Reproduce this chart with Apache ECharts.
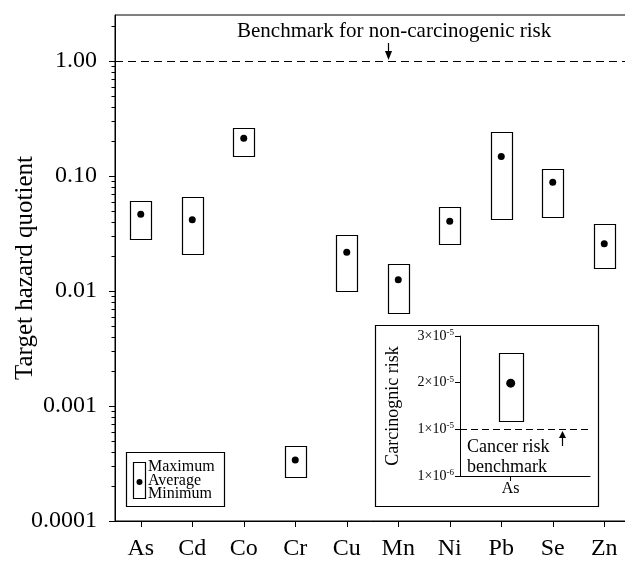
<!DOCTYPE html>
<html><head><meta charset="utf-8">
<script src="https://cdn.jsdelivr.net/npm/echarts@6/dist/echarts.min.js"></script>
<style>html,body{margin:0;padding:0;background:#fff}#c{width:625px;height:561px}</style>
</head><body><div id="c"></div>
<script>
// ---- data ----
const categories = ['As','Cd','Co','Cr','Cu','Mn','Ni','Pb','Se','Zn'];
const maxValues = [0.061, 0.0657, 0.26, 0.00045, 0.0307, 0.0171, 0.0534, 0.243, 0.115, 0.038];
const avgValues = [0.0465, 0.0417, 0.213, 0.00034, 0.0217, 0.0125, 0.0404, 0.148, 0.0881, 0.0258];
const minValues = [0.0285, 0.021, 0.150, 0.00024, 0.0101, 0.0064, 0.0255, 0.0426, 0.0438, 0.0160];
const yTickValues = [0.0001, 0.001, 0.01, 0.1, 1];
const yTickLabels = ['0.0001', '0.001', '0.01', '0.10', '1.00'];
const benchmarkHQ = [1];
const legendLabels = ['Maximum', 'Average', 'Minimum'];

const insetCategories = ['As'];
const insetMax = [2.64e-5];
const insetAvg = [1.99e-5];
const insetMin = [1.18e-5];
const insetTickValues = [0, 1e-5, 2e-5, 3e-5];
const insetTickMantissa = ['1', '1', '2', '3'];
const insetTickExponent = ['-6', '-5', '-5', '-5'];
const cancerBenchmark = [1e-5];

// ---- layout / style ----
const FONT = 'Liberation Serif';
const Y_MAX = 2.512;
const INSET_CAT_AT = 0.39;
const minorTicks = [];
for (let k = -4; k <= 0; k++) for (let m = 2; m <= 9; m++) {
  const v = m * Math.pow(10, k);
  if (v <= Y_MAX) minorTicks.push(v);
}
function nearestIdx(arr, v) {
  let b = 0, bd = Infinity;
  arr.forEach((a, i) => { const d = Math.abs(Math.log(a) - Math.log(v)); if (d < bd) { bd = d; b = i; } });
  return b;
}

const chart = echarts.init(document.getElementById('c'));
const black = '#000';
chart.setOption({
  animation: false,
  textStyle: { fontFamily: FONT, color: black },
  grid: [
    { left: 115, top: 15, width: 515, height: 506, containLabel: false, outerBoundsMode: 'none',
      show: true, borderColor: black, borderWidth: 1, backgroundColor: 'transparent' },
    { left: 460, top: 336, width: 130, height: 140, containLabel: false, outerBoundsMode: 'none' }
  ],
  xAxis: [
    { gridIndex: 0, type: 'category', data: categories, boundaryGap: true,
      axisLine: { show: true, lineStyle: { color: black, width: 1 } },
      axisTick: { show: true, alignWithLabel: true, length: 6, lineStyle: { color: black } },
      axisLabel: { fontSize: 24, fontFamily: FONT, color: black, margin: 16 },
      splitLine: { show: false } },
    { gridIndex: 1, type: 'value', min: 0, max: 1,
      axisLine: { show: true, onZero: false, lineStyle: { color: black, width: 1 } },
      axisTick: { show: true, length: 5, customValues: [INSET_CAT_AT], lineStyle: { color: black } },
      axisLabel: { customValues: [INSET_CAT_AT], formatter: () => insetCategories[0], fontSize: 16, fontFamily: FONT, color: black, margin: 5 },
      splitLine: { show: false } }
  ],
  yAxis: [
    { gridIndex: 0, type: 'log', logBase: 10, min: 0.0001, max: Y_MAX,
      axisLine: { show: true, lineStyle: { color: black, width: 1 } },
      axisTick: { show: true, length: 6, customValues: yTickValues, lineStyle: { color: black } },
      axisLabel: { customValues: yTickValues, formatter: v => yTickLabels[nearestIdx(yTickValues, v)], fontSize: 24, fontFamily: FONT, color: black, margin: 18 },
      splitLine: { show: false },
      name: 'Target hazard quotient', nameLocation: 'middle', nameGap: 77, nameMoveOverlap: false,
      nameTextStyle: { fontSize: 25, fontFamily: FONT, color: black } },
    { gridIndex: 1, type: 'value', min: 0, max: 3e-5,
      axisLine: { show: true, lineStyle: { color: black, width: 1 } },
      axisTick: { show: true, length: 5, customValues: insetTickValues, lineStyle: { color: black } },
      axisLabel: { customValues: insetTickValues, margin: 6,
        formatter: v => { let i = 0, bd = Infinity; insetTickValues.forEach((a, j) => { const d = Math.abs(a - v); if (d < bd) { bd = d; i = j; } });
          return '{m|' + insetTickMantissa[i] + '×10}{s|' + insetTickExponent[i] + '}'; },
        rich: { m: { fontSize: 14, fontFamily: FONT, color: black },
                s: { fontSize: 9, fontFamily: FONT, color: black, padding: [0, 0, 7, 0] } } },
      splitLine: { show: false },
      name: 'Carcinognic risk', nameLocation: 'middle', nameGap: 58, nameMoveOverlap: false,
      nameTextStyle: { fontSize: 18, fontFamily: FONT, color: black } }
  ],
  series: [
    { type: 'custom', xAxisIndex: 0, yAxisIndex: 0, z: 3, clip: false,
      data: categories.map((c, i) => [i, minValues[i], maxValues[i]]),
      encode: { x: 0, y: [1, 2] },
      renderItem: (params, api) => {
        const lo = api.coord([api.value(0), api.value(1)]);
        const hi = api.coord([api.value(0), api.value(2)]);
        return { type: 'rect', shape: { x: Math.round(lo[0] - 10.5) + 0.5, y: Math.round(hi[1]) + 0.5, width: 21, height: Math.round(lo[1]) - Math.round(hi[1]) },
          style: { fill: 'none', stroke: black, lineWidth: 1.2 } };
      } },
    { type: 'scatter', xAxisIndex: 0, yAxisIndex: 0, z: 4,
      data: avgValues.map((v, i) => [i, v]), symbol: 'circle', symbolSize: 7,
      itemStyle: { color: black, opacity: 1 } },
    // benchmark line + minor ticks of the log axis
    { type: 'custom', xAxisIndex: 0, yAxisIndex: 0, z: 3, silent: true, clip: false,
      data: benchmarkHQ.map(v => [0, v]),
      encode: { x: 0, y: 1 },
      renderItem: (params, api) => {
        const cs = params.coordSys;
        const yb = Math.round(api.coord([0, api.value(1)])[1]) + 0.5;
        const children = [{ type: 'line', shape: { x1: cs.x, y1: yb, x2: cs.x + cs.width, y2: yb },
          style: { stroke: black, lineWidth: 1, lineDash: [8, 5] } }];
        minorTicks.forEach(v => {
          const y = Math.round(api.coord([0, v])[1]) + 0.5;
          children.push({ type: 'line', shape: { x1: cs.x - 3.5, y1: y, x2: cs.x, y2: y }, style: { stroke: black, lineWidth: 1 } });
        });
        return { type: 'group', children };
      } },
    { type: 'custom', xAxisIndex: 1, yAxisIndex: 1, z: 3, clip: false,
      data: insetCategories.map((c, i) => [INSET_CAT_AT, insetMin[i], insetMax[i]]),
      encode: { x: 0, y: [1, 2] },
      renderItem: (params, api) => {
        const lo = api.coord([api.value(0), api.value(1)]);
        const hi = api.coord([api.value(0), api.value(2)]);
        return { type: 'rect', shape: { x: Math.round(lo[0] - 12) + 0.5, y: Math.round(hi[1]) + 0.5, width: 24, height: Math.round(lo[1]) - Math.round(hi[1]) },
          style: { fill: 'none', stroke: black, lineWidth: 1.2 } };
      } },
    { type: 'scatter', xAxisIndex: 1, yAxisIndex: 1, z: 4,
      data: insetAvg.map(v => [INSET_CAT_AT, v]), symbol: 'circle', symbolSize: 9,
      itemStyle: { color: black, opacity: 1 } },
    { type: 'custom', xAxisIndex: 1, yAxisIndex: 1, z: 3, silent: true, clip: false,
      data: cancerBenchmark.map(v => [0, v]),
      encode: { x: 0, y: 1 },
      renderItem: (params, api) => {
        const cs = params.coordSys;
        const y = Math.round(api.coord([0, api.value(1)])[1]) + 0.5;
        return { type: 'line', shape: { x1: cs.x, y1: y, x2: cs.x + cs.width, y2: y },
          style: { stroke: black, lineWidth: 1, lineDash: [7, 4] } };
      } }
  ],
  graphic: [
    { type: 'text', left: 237, top: 21, style: { text: 'Benchmark for non-carcinogenic risk', font: '21px "Liberation Serif"', fill: black } },
    { type: 'line', shape: { x1: 388.5, y1: 43, x2: 388.5, y2: 53 }, style: { stroke: black, lineWidth: 1.2 } },
    { type: 'polygon', shape: { points: [[385, 51], [392, 51], [388.5, 60]] }, style: { fill: black } },
    // legend box
    { type: 'rect', shape: { x: 126.5, y: 452.5, width: 98, height: 54 }, style: { fill: '#fff', stroke: black, lineWidth: 1.2 } },
    { type: 'rect', shape: { x: 133.5, y: 462.5, width: 12, height: 36 }, style: { fill: 'none', stroke: black, lineWidth: 1.2 } },
    { type: 'circle', shape: { cx: 139.5, cy: 482, r: 3 }, style: { fill: black } },
    { type: 'text', left: 148, top: 459, style: { text: legendLabels.join('\n'), font: '16px "Liberation Serif"', lineHeight: 13.5, fill: black } },
    // inset frame
    { type: 'rect', z: -1, shape: { x: 375.5, y: 325.5, width: 223, height: 181 }, style: { fill: '#fff', stroke: black, lineWidth: 1.2 } },
    { type: 'text', left: 467, top: 437, style: { text: 'Cancer risk\nbenchmark', font: '18px "Liberation Serif"', lineHeight: 20.5, fill: black } },
    { type: 'line', shape: { x1: 562.5, y1: 446, x2: 562.5, y2: 436 }, style: { stroke: black, lineWidth: 1.2 } },
    { type: 'polygon', shape: { points: [[559, 438], [566, 438], [562.5, 431]] }, style: { fill: black } }
  ]
});
</script>
</body></html>
